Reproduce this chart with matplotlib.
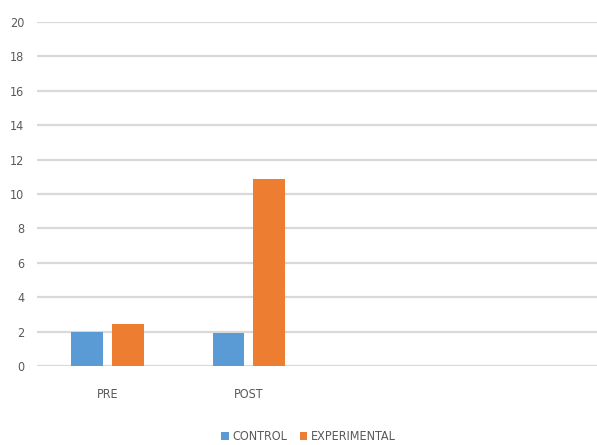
import matplotlib.pyplot as plt
import numpy as np

plt.rcParams['font.family'] = ['DejaVu Sans']
plt.rcParams['font.stretch'] = 'condensed'

categories = ["PRE", "POST", "", ""]
control = [2.0, 1.9, np.nan, np.nan]
experimental = [2.42, 10.85, np.nan, np.nan]
y_ticks = list(range(0, 21, 2))

fig = plt.figure(figsize=(5.97, 4.45), dpi=100)
ax = fig.add_axes([37 / 597, 79 / 445, 560 / 597, 344 / 445])

x = np.arange(len(categories))
w = 0.223
ax.bar(x - 0.144, control, w, color="#5B9BD5", label="CONTROL", zorder=3)
ax.bar(x + 0.144, experimental, w, color="#ED7D31", label="EXPERIMENTAL", zorder=3)

ax.set_xlim(-0.5, 3.47)
ax.set_ylim(0, 20)
ax.set_yticks(y_ticks)
ax.set_xticks(x[:2])
ax.set_xticklabels(categories[:2])
ax.grid(axis="y", color="#D9D9D9", linewidth=1.6, zorder=0)
ax.tick_params(axis="both", length=0, labelsize=9, labelcolor="#595959")
ax.tick_params(axis="y", pad=9)
ax.tick_params(axis="x", pad=16)
for s in ax.spines.values():
    s.set_visible(False)

fig.legend(loc="center", bbox_to_anchor=(0.517, 1 - 437 / 445), ncol=2,
           frameon=False, handlelength=0.6, handleheight=0.6, handletextpad=0.3,
           columnspacing=1.0, fontsize=9, labelcolor="#595959")

fig.savefig("out.png", dpi=100)
